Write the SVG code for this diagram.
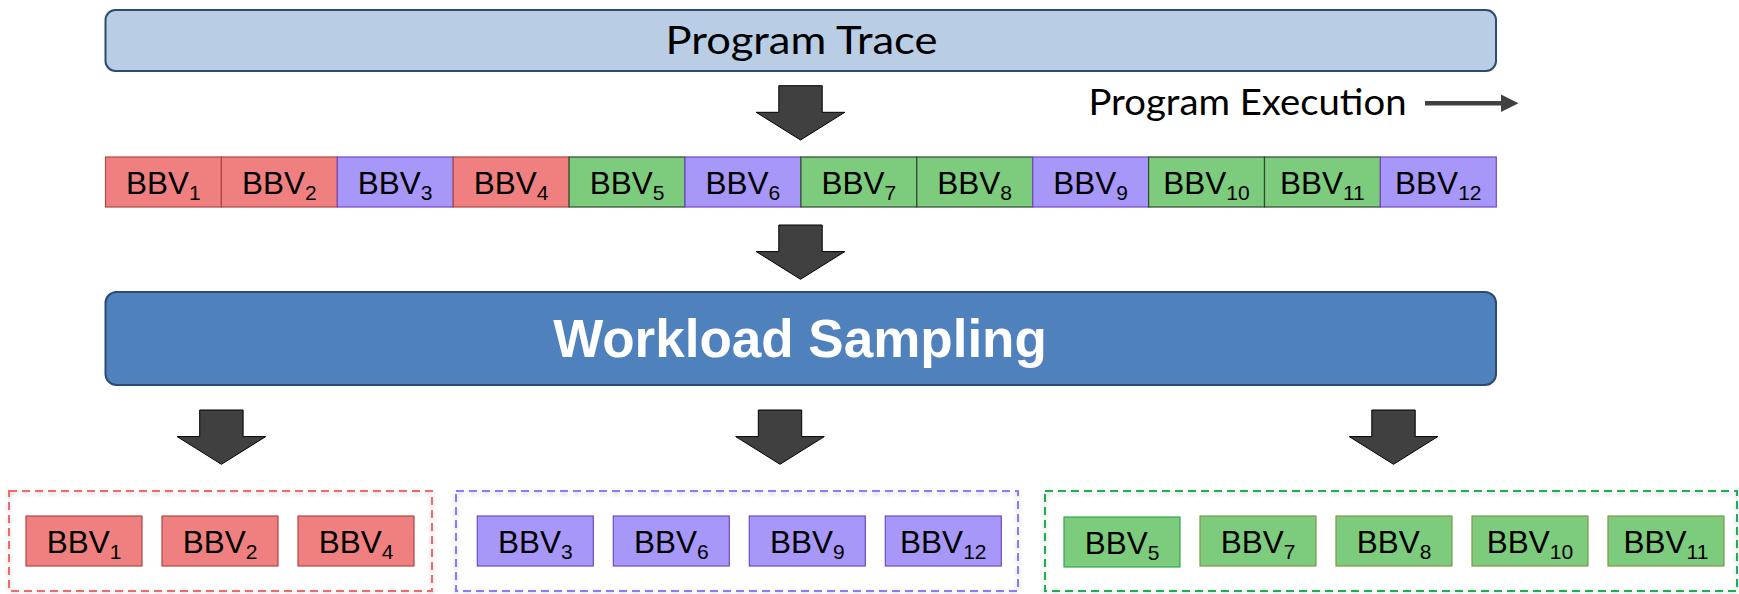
<svg xmlns="http://www.w3.org/2000/svg" xmlns:xlink="http://www.w3.org/1999/xlink" width="1739" height="594" viewBox="0 0 1739 594">
  <style>
    .cell text, .item text { font-family: "Liberation Sans", Arial, sans-serif; font-size: 31.5px; fill: #000; text-anchor: middle; }
    .sub { font-size: 21px; }
    .red rect { fill: #f08080; stroke: #b04545; stroke-width: 1.2; }
    .purple rect { fill: #a797f8; stroke: #7448c4; stroke-width: 1.2; }
    .green rect { fill: #7dcb7c; stroke: #2e4a2e; stroke-width: 1.2; }
    .item.green rect { stroke: #7d9a45; }
    .calibri { font-family: Lato, "Open Sans", sans-serif; fill: #000; text-anchor: middle; }
    .group-box { fill: none; stroke-width: 2; stroke-dasharray: 8 5; filter: url(#soft); }
    .block-arrow { fill: #404040; stroke: #000; stroke-width: 1; }
  </style>
  <defs>
    <filter id="soft" x="-5%" y="-10%" width="110%" height="130%">
      <feDropShadow dx="0" dy="2" stdDeviation="2" flood-color="#000" flood-opacity="0.22"/>
    </filter>
    <!-- block arrow pointing down, centred on x=0, top at y=0 -->
    <path id="down" class="block-arrow" d="M -21.7 0 H 21.7 V 26.6 H 44.3 L 0 54.3 L -44.3 26.6 H -21.7 Z"/>
  </defs>

  <rect width="1739" height="594" fill="#fff"/>

  <!-- Program Trace -->
  <g id="program-trace">
    <rect x="105.5" y="10" width="1390.5" height="61" rx="10" fill="#b9cde5" stroke="#2c4c74" stroke-width="2"/>
    <text class="calibri" x="801.5" y="54.3" font-size="38" textLength="272" lengthAdjust="spacingAndGlyphs">Program Trace</text>
  </g>

  <!-- Program Execution label with its arrow -->
  <g id="program-execution">
    <text class="calibri" x="1247.5" y="115" font-size="36.5" textLength="318" lengthAdjust="spacingAndGlyphs">Program Execution</text>
    <line x1="1425" y1="103.3" x2="1503" y2="103.3" stroke="#404040" stroke-width="4.5"/>
    <polygon points="1501,94.5 1518.5,103.3 1501,112.1" fill="#404040"/>
  </g>

  <!-- Execution strip of basic block vectors -->
  <g id="bbv-strip">
    <g id="s1" class="cell red"><rect x="105.5" y="157" width="115.9" height="50"/><text x="163.4" y="194.3">BBV<tspan class="sub" dy="6">1</tspan></text></g>
    <g id="s2" class="cell red"><rect x="221.4" y="157" width="115.9" height="50"/><text x="279.3" y="194.3">BBV<tspan class="sub" dy="6">2</tspan></text></g>
    <g id="s3" class="cell purple"><rect x="337.3" y="157" width="115.9" height="50"/><text x="395.2" y="194.3">BBV<tspan class="sub" dy="6">3</tspan></text></g>
    <g id="s4" class="cell red"><rect x="453.2" y="157" width="115.9" height="50"/><text x="511.1" y="194.3">BBV<tspan class="sub" dy="6">4</tspan></text></g>
    <g id="s5" class="cell green"><rect x="569.1" y="157" width="115.9" height="50"/><text x="627.0" y="194.3">BBV<tspan class="sub" dy="6">5</tspan></text></g>
    <g id="s6" class="cell purple"><rect x="685.0" y="157" width="115.9" height="50"/><text x="742.9" y="194.3">BBV<tspan class="sub" dy="6">6</tspan></text></g>
    <g id="s7" class="cell green"><rect x="800.9" y="157" width="115.9" height="50"/><text x="858.8" y="194.3">BBV<tspan class="sub" dy="6">7</tspan></text></g>
    <g id="s8" class="cell green"><rect x="916.8" y="157" width="115.9" height="50"/><text x="974.7" y="194.3">BBV<tspan class="sub" dy="6">8</tspan></text></g>
    <g id="s9" class="cell purple"><rect x="1032.7" y="157" width="115.9" height="50"/><text x="1090.6" y="194.3">BBV<tspan class="sub" dy="6">9</tspan></text></g>
    <g id="s10" class="cell green"><rect x="1148.6" y="157" width="115.9" height="50"/><text x="1206.5" y="194.3">BBV<tspan class="sub" dy="6">10</tspan></text></g>
    <g id="s11" class="cell green"><rect x="1264.5" y="157" width="115.9" height="50"/><text x="1322.4" y="194.3">BBV<tspan class="sub" dy="6">11</tspan></text></g>
    <g id="s12" class="cell purple"><rect x="1380.4" y="157" width="115.9" height="50"/><text x="1438.3" y="194.3">BBV<tspan class="sub" dy="6">12</tspan></text></g>
  </g>

  <!-- Workload Sampling -->
  <g id="workload-sampling">
    <rect x="105.5" y="292" width="1390.5" height="93" rx="11" fill="#4f81bd" stroke="#2c4c74" stroke-width="2"/>
    <text x="800" y="357.3" font-family="'Liberation Sans', Arial, sans-serif" font-weight="bold" font-size="53" fill="#fff" text-anchor="middle">Workload Sampling</text>
  </g>

  <!-- Red cluster -->
  <g id="cluster-red">
    <rect class="group-box" x="9" y="491" width="423" height="100" stroke="#f06a6a"/>
    <g class="item red"><rect x="26" y="516" width="116" height="50"/><text x="84" y="553">BBV<tspan class="sub" dy="6">1</tspan></text></g>
    <g class="item red"><rect x="162" y="516" width="116" height="50"/><text x="220" y="553">BBV<tspan class="sub" dy="6">2</tspan></text></g>
    <g class="item red"><rect x="298" y="516" width="116" height="50"/><text x="356" y="553">BBV<tspan class="sub" dy="6">4</tspan></text></g>
  </g>

  <!-- Purple cluster -->
  <g id="cluster-purple">
    <rect class="group-box" x="456" y="491" width="562" height="100" stroke="#8a7cf8"/>
    <g class="item purple"><rect x="477.3" y="516" width="116" height="50"/><text x="535.3" y="553">BBV<tspan class="sub" dy="6">3</tspan></text></g>
    <g class="item purple"><rect x="613.3" y="516" width="116" height="50"/><text x="671.3" y="553">BBV<tspan class="sub" dy="6">6</tspan></text></g>
    <g class="item purple"><rect x="749.3" y="516" width="116" height="50"/><text x="807.3" y="553">BBV<tspan class="sub" dy="6">9</tspan></text></g>
    <g class="item purple"><rect x="885.3" y="516" width="116" height="50"/><text x="943.3" y="553">BBV<tspan class="sub" dy="6">12</tspan></text></g>
  </g>

  <!-- Green cluster -->
  <g id="cluster-green">
    <rect class="group-box" x="1045" y="491" width="692" height="100" stroke="#1fae4f"/>
    <g class="item green"><rect x="1064" y="517" width="116" height="50" style="stroke:#2fa84f"/><text x="1122" y="554">BBV<tspan class="sub" dy="6">5</tspan></text></g>
    <g class="item green"><rect x="1200" y="516" width="116" height="50"/><text x="1258" y="553">BBV<tspan class="sub" dy="6">7</tspan></text></g>
    <g class="item green"><rect x="1336" y="516" width="116" height="50"/><text x="1394" y="553">BBV<tspan class="sub" dy="6">8</tspan></text></g>
    <g class="item green"><rect x="1472" y="516" width="116" height="50"/><text x="1530" y="553">BBV<tspan class="sub" dy="6">10</tspan></text></g>
    <g class="item green"><rect x="1608" y="516" width="116" height="50"/><text x="1666" y="553">BBV<tspan class="sub" dy="6">11</tspan></text></g>
  </g>

  <!-- Block arrows between stages -->
  <g id="connectors">
    <use xlink:href="#down" transform="translate(800.5 85.7)"/>
    <use xlink:href="#down" transform="translate(800.5 225)"/>
    <use xlink:href="#down" transform="translate(221.4 410)"/>
    <use xlink:href="#down" transform="translate(780 410)"/>
    <use xlink:href="#down" transform="translate(1393.5 410)"/>
  </g>
</svg>
